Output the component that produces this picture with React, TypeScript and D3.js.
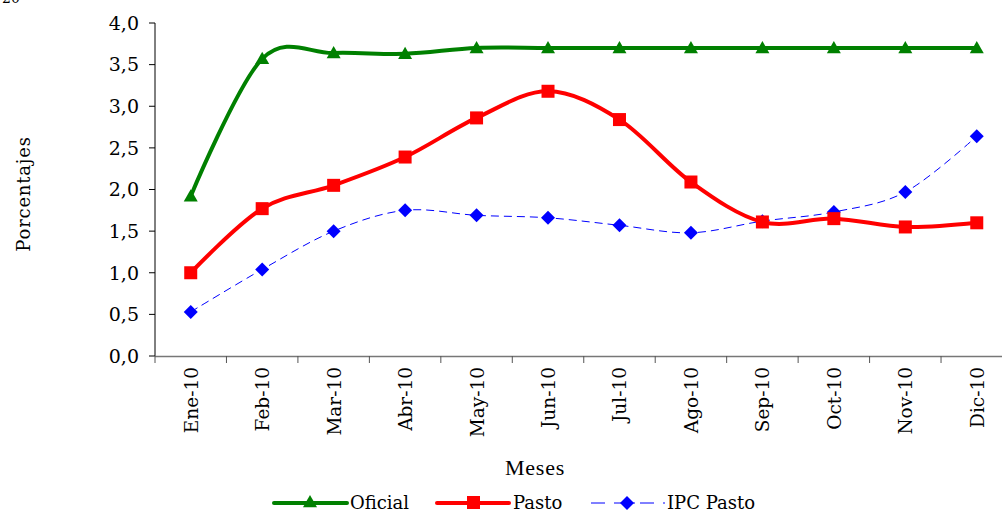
import React from "react";
import * as d3 from "d3";

const months = ["Ene-10","Feb-10","Mar-10","Abr-10","May-10","Jun-10","Jul-10","Ago-10","Sep-10","Oct-10","Nov-10","Dic-10"];
const oficial = [1.92, 3.57, 3.64, 3.63, 3.70, 3.70, 3.70, 3.70, 3.70, 3.70, 3.70, 3.70];
const pasto = [1.00, 1.77, 2.05, 2.39, 2.86, 3.18, 2.84, 2.09, 1.61, 1.65, 1.55, 1.60];
const ipcPasto = [0.53, 1.04, 1.50, 1.75, 1.69, 1.66, 1.57, 1.48, 1.62, 1.73, 1.97, 2.64];
const yTicks = [0, 0.5, 1, 1.5, 2, 2.5, 3, 3.5, 4];

const FONT = "'DejaVu Serif', serif";

export default function App() {
  const W = 1002, H = 514;
  const x = d3.scaleBand<string>().domain(months).range([155, 1012.5]);
  const y = d3.scaleLinear().domain([0, 4]).range([356, 23]);
  const cx = (m: string) => (x(m) as number) + x.bandwidth() / 2;
  const line = d3.line<number>().x((_, i) => cx(months[i])).y(d => y(d)).curve(d3.curveCatmullRom.alpha(0));
  const fmt = (v: number) => v.toFixed(1).replace(".", ",");

  const tri = (px: number, py: number, s = 7) => `M${px},${py - s}L${px + s},${py + s * 0.75}L${px - s},${py + s * 0.75}Z`;
  const dia = (px: number, py: number) => `M${px},${py - 7}L${px + 7},${py}L${px},${py + 7}L${px - 7},${py}Z`;

  return (
    <svg width={W} height={H} style={{ position: "absolute", left: 0, top: 0, background: "#fff" }}>
      <text x={2} y={3} fontFamily={FONT} fontSize={14} fill="#000">20</text>
      {/* y axis */}
      <line x1={155} x2={155} y1={23} y2={356} stroke="#000" strokeWidth={1} />
      {yTicks.map(t => (
        <g key={t}>
          <line x1={149} x2={155} y1={y(t)} y2={y(t)} stroke="#000" />
          <text x={139} y={y(t)} dy="0.36em" textAnchor="end" fontFamily={FONT} fontSize={19}>{fmt(t)}</text>
        </g>
      ))}
      {/* x axis */}
      <line x1={155} x2={1002} y1={356.5} y2={356.5} stroke="#777" strokeWidth={1.5} />
      {months.map(m => (
        <line key={"t" + m} x1={(x(m) as number)} x2={(x(m) as number)} y1={356} y2={363} stroke="#555" />
      ))}
      {months.map(m => (
        <text key={m} transform={`translate(${cx(m) + 7},367) rotate(-90)`} textAnchor="end" fontFamily={FONT} fontSize={18.5}>{m}</text>
      ))}
      <text x={535} y={475} textAnchor="middle" fontFamily="'Liberation Serif', serif" fontSize={22} letterSpacing={0.8}>Meses</text>
      <text transform="translate(30,194) rotate(-90)" textAnchor="middle" fontFamily={FONT} fontSize={18} letterSpacing={0.8}>Porcentajes</text>

      {/* series */}
      <path d={line(ipcPasto) || ""} fill="none" stroke="#0000ff" strokeWidth={1} strokeDasharray="8,5" />
      {ipcPasto.map((v, i) => <path key={"d" + i} d={dia(cx(months[i]), y(v))} fill="#0000ff" />)}
      <path d={line(pasto) || ""} fill="none" stroke="#ff0000" strokeWidth={4} />
      {pasto.map((v, i) => <rect key={"s" + i} x={cx(months[i]) - 6.5} y={y(v) - 6.5} width={13} height={13} fill="#ff0000" />)}
      <path d={line(oficial) || ""} fill="none" stroke="#008000" strokeWidth={4} />
      {oficial.map((v, i) => <path key={"t" + i} d={tri(cx(months[i]), y(v))} fill="#008000" />)}

      {/* legend */}
      <g fontFamily={FONT} fontSize={18}>
        <line x1={274} x2={347} y1={503} y2={503} stroke="#008000" strokeWidth={4} strokeLinecap="round" />
        <path d={tri(310, 502, 7)} fill="#008000" />
        <text x={350} y={503} dy="0.35em">Oficial</text>
        <line x1={437} x2={509} y1={503} y2={503} stroke="#ff0000" strokeWidth={4} strokeLinecap="round" />
        <rect x={467} y={496} width={13} height={13} fill="#ff0000" />
        <text x={513} y={503} dy="0.35em">Pasto</text>
        <line x1={591} x2={665} y1={503} y2={503} stroke="#0000ff" strokeWidth={1} strokeDasharray="14,9,8,5,8,5" />
        <path d={dia(627, 503)} fill="#0000ff" />
        <text x={667} y={503} dy="0.35em">IPC Pasto</text>
      </g>
    </svg>
  );
}
